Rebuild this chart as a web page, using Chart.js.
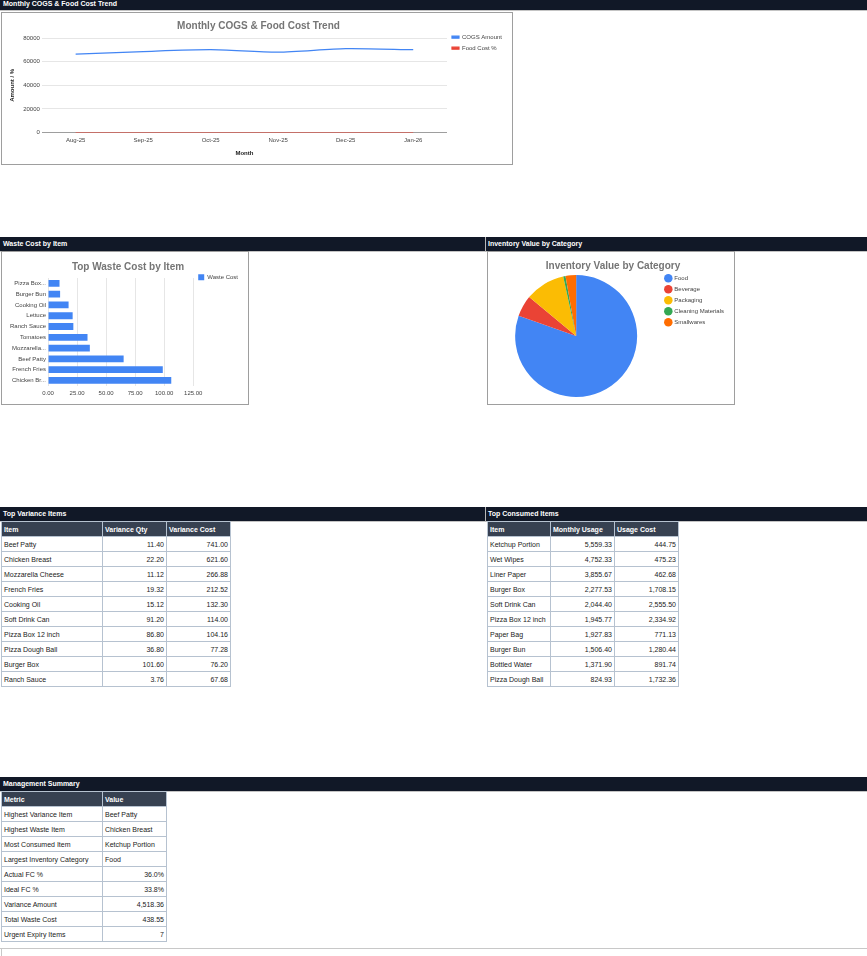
<!DOCTYPE html>
<html>
<head>
<meta charset="utf-8">
<script src="https://cdn.jsdelivr.net/npm/chart.js@4.4.1/dist/chart.umd.min.js"></script>
<style>
  body { margin: 0; background: #fff; font-family: "Liberation Sans", Arial, sans-serif; }
  .page { position: relative; width: 867px; height: 956px; overflow: hidden; }
  .bar { position: absolute; left: 0; width: 867px; height: 14px; background: #111827; border-bottom: 1px solid #c4c4c4;
         color: #fff; font-weight: bold; font-size: 7px; line-height: 14px; }
  .bar span { position: absolute; top: 0; }
  .bar .sep { position: absolute; top: 0; left: 485px; width: 1px; height: 15px; background: #b8b8b8; }
  .box { position: absolute; border: 1px solid #9e9e9e; background: #fff; }
  .box canvas { display: block; }
  table { position: absolute; border-collapse: collapse; font-size: 7px; color: #222; table-layout: fixed; }
  td, th { border: 1px solid #b6c2d0; height: 14px; padding: 0 2px; white-space: nowrap; overflow: hidden; }
  th { background: #374151; color: #fff; font-weight: bold; text-align: left; }
  td.num { text-align: right; }
</style>
</head>
<body>
<div class="page">
  <div class="bar" style="top:-4px;"><span style="left:3px;top:1px;">Monthly COGS &amp; Food Cost Trend</span></div>
  <div class="box" style="left:1px;top:12px;"><canvas id="trendChart" width="510" height="151"></canvas></div>

  <div class="bar" style="top:237px;"><span style="left:3px;">Waste Cost by Item</span><div class="sep"></div><span style="left:488px;">Inventory Value by Category</span></div>
  <div class="box" style="left:1px;top:251px;"><canvas id="wasteChart" width="246" height="152"></canvas></div>
  <div class="box" style="left:487px;top:251px;"><canvas id="invChart" width="246" height="152"></canvas></div>

  <div class="bar" style="top:507px;"><span style="left:3px;">Top Variance Items</span><div class="sep"></div><span style="left:488px;">Top Consumed Items</span></div>
  <table id="varianceTable" style="left:1px;top:521px;"></table>
  <table id="consumedTable" style="left:487px;top:521px;"></table>

  <div class="bar" style="top:777px;"><span style="left:3px;">Management Summary</span></div>
  <table id="summaryTable" style="left:1px;top:791px;"></table>

  <div style="position:absolute;left:0;top:948px;width:867px;height:1px;background:#c8c8c8;"></div>
  <div style="position:absolute;left:1px;top:948px;width:1px;height:8px;background:#c8c8c8;"></div>
</div>

<script>
// ── data ────────────────────────────────────────────────────────────────
const months       = ["Aug-25", "Sep-25", "Oct-25", "Nov-25", "Dec-25", "Jan-26"];
const cogsAmount   = [66300, 68500, 70100, 68000, 71000, 70100];
const foodCostPct  = [34.8, 35.4, 36.2, 35.7, 36.5, 36.0];
const trendTicks   = { min: 0, max: 80000, step: 20000 };

const wasteItems   = ["Pizza Box...", "Burger Bun", "Cooking Oil", "Lettuce", "Ranch Sauce",
                      "Tomatoes", "Mozzarella...", "Beef Patty", "French Fries", "Chicken Br..."];
const wasteCost    = [9.9, 10.4, 17.7, 21.2, 21.8, 34.0, 36.0, 65.1, 98.8, 106.1];
const wasteTicks   = { min: 0, max: 125, step: 25 };

const invCategories = ["Food", "Beverage", "Packaging", "Cleaning Materials", "Smallwares"];
const invValues     = [80.4, 5.6, 10.6, 0.6, 2.8];
const invColors     = ["#4285F4", "#EA4335", "#FBBC04", "#34A853", "#FF6D01"];

const varianceItems = ["Beef Patty", "Chicken Breast", "Mozzarella Cheese", "French Fries", "Cooking Oil",
                       "Soft Drink Can", "Pizza Box 12 inch", "Pizza Dough Ball", "Burger Box", "Ranch Sauce"];
const varianceQty   = ["11.40", "22.20", "11.12", "19.32", "15.12", "91.20", "86.80", "36.80", "101.60", "3.76"];
const varianceCost  = ["741.00", "621.60", "266.88", "212.52", "132.30", "114.00", "104.16", "77.28", "76.20", "67.68"];

const consumedItems = ["Ketchup Portion", "Wet Wipes", "Liner Paper", "Burger Box", "Soft Drink Can",
                       "Pizza Box 12 inch", "Paper Bag", "Burger Bun", "Bottled Water", "Pizza Dough Ball"];
const consumedUsage = ["5,559.33", "4,752.33", "3,855.67", "2,277.53", "2,044.40",
                       "1,945.77", "1,927.83", "1,506.40", "1,371.90", "824.93"];
const consumedCost  = ["444.75", "475.23", "462.68", "1,708.15", "2,555.50",
                       "2,334.92", "771.13", "1,280.44", "891.74", "1,732.36"];

const summaryMetrics = ["Highest Variance Item", "Highest Waste Item", "Most Consumed Item", "Largest Inventory Category",
                        "Actual FC %", "Ideal FC %", "Variance Amount", "Total Waste Cost", "Urgent Expiry Items"];
const summaryValues  = ["Beef Patty", "Chicken Breast", "Ketchup Portion", "Food",
                        "36.0%", "33.8%", "4,518.36", "438.55", "7"];

// ── tables ──────────────────────────────────────────────────────────────
function buildTable(id, headers, widths, cols, numeric) {
    const t = document.getElementById(id);
    let html = "<colgroup>" + widths.map(w => `<col style="width:${w}px">`).join("") + "</colgroup>";
    html += "<tr>" + headers.map(h => `<th>${h}</th>`).join("") + "</tr>";
    for (let i = 0; i < cols[0].length; i++) {
        html += "<tr>" + cols.map((c, j) => {
            const isNum = numeric[j] === true || (numeric[j] === "auto" && /^[\d.,%]+$/.test(c[i]));
            return `<td class="${isNum ? "num" : ""}">${c[i]}</td>`;
        }).join("") + "</tr>";
    }
    t.innerHTML = html;
}
buildTable("varianceTable", ["Item", "Variance Qty", "Variance Cost"], [101, 64, 64],
           [varianceItems, varianceQty, varianceCost], [false, true, true]);
buildTable("consumedTable", ["Item", "Monthly Usage", "Usage Cost"], [63, 64, 64],
           [consumedItems, consumedUsage, consumedCost], [false, true, true]);
buildTable("summaryTable", ["Metric", "Value"], [101, 64],
           [summaryMetrics, summaryValues], [false, "auto"]);

// ── charts ──────────────────────────────────────────────────────────────
Chart.defaults.font.family = "'Liberation Sans', Arial, sans-serif";
Chart.defaults.color = "#444";
Chart.defaults.animation = false;
Chart.defaults.plugins.tooltip.enabled = false;

const titleFont = { size: 10, weight: "bold" };
const small = { size: 6 };
// empty legend title used only as a spacer so legend items line up with the plot top
const legendSpacer = top => ({ display: true, text: "", font: small, padding: { top: top, bottom: 0 } });

new Chart(document.getElementById("trendChart"), {
    type: "line",
    data: {
        labels: months,
        datasets: [
            { label: "COGS Amount", data: cogsAmount, borderColor: "#4285F4", backgroundColor: "#4285F4",
              borderWidth: 1.2, pointRadius: 0, tension: 0.25 },
            { label: "Food Cost %", data: foodCostPct, borderColor: "#EA4335", backgroundColor: "#EA4335",
              borderWidth: 1.2, pointRadius: 0, tension: 0.25 }
        ]
    },
    options: {
        responsive: false,
        devicePixelRatio: 1,
        layout: { padding: { left: 3, right: 0, top: 0, bottom: 3 } },
        plugins: {
            title: { display: true, text: "Monthly COGS & Food Cost Trend", color: "#757575", font: titleFont,
                     padding: { top: 7, bottom: 6 } },
            legend: { position: "right", align: "start", title: legendSpacer(9),
                      labels: { boxWidth: 7, boxHeight: 2, font: small, color: "#444", padding: 5 } }
        },
        scales: {
            x: { offset: true, grid: { display: false, drawTicks: false }, border: { display: false },
                 ticks: { font: small, color: "#444", padding: 4, maxRotation: 0 },
                 title: { display: true, text: "Month", font: { size: 6, weight: "bold" }, color: "#222", padding: { top: 2 } } },
            y: { min: trendTicks.min, max: trendTicks.max,
                 ticks: { stepSize: trendTicks.step, font: small, color: "#444", padding: 2, callback: v => v },
                 grid: { color: ctx => ctx.tick && ctx.tick.value === 0 ? "#9e9e9e" : "#e6e6e6", drawTicks: false },
                 border: { display: false },
                 title: { display: true, text: "Amount / %", font: { size: 6, weight: "bold" }, color: "#222",
                          padding: { top: 4, bottom: 5 } } }
        }
    }
});

new Chart(document.getElementById("wasteChart"), {
    type: "bar",
    data: {
        labels: wasteItems,
        datasets: [{ label: "Waste Cost", data: wasteCost, backgroundColor: "#4285F4",
                     categoryPercentage: 1, barPercentage: 0.63 }]
    },
    options: {
        indexAxis: "y",
        responsive: false,
        devicePixelRatio: 1,
        layout: { padding: { left: 6, right: 0, top: 0, bottom: 3 } },
        plugins: {
            title: { display: true, text: "Top Waste Cost by Item", color: "#757575", font: titleFont,
                     padding: { top: 9, bottom: 5 } },
            legend: { position: "right", align: "start", title: legendSpacer(10),
                      labels: { boxWidth: 6, boxHeight: 6, font: small, color: "#444", padding: 5 } }
        },
        scales: {
            x: { min: wasteTicks.min, max: wasteTicks.max,
                 ticks: { stepSize: wasteTicks.step, font: small, color: "#444", callback: v => v.toFixed(2), maxRotation: 0, padding: 4 },
                 grid: { color: "#e6e6e6", drawTicks: false }, border: { display: false } },
            y: { grid: { display: false, drawTicks: false }, border: { display: false },
                 ticks: { font: small, color: "#444", padding: 2 } }
        }
    }
});

new Chart(document.getElementById("invChart"), {
    type: "pie",
    data: {
        labels: invCategories,
        datasets: [{ data: invValues, backgroundColor: invColors, borderWidth: 0 }]
    },
    options: {
        responsive: false,
        devicePixelRatio: 1,
        layout: { padding: { left: 4, right: 0, top: 0, bottom: 7 } },
        plugins: {
            title: { display: true, text: "Inventory Value by Category", color: "#757575", font: titleFont,
                     padding: { top: 8, bottom: 3 } },
            legend: { position: "right", align: "start", title: legendSpacer(11),
                      labels: { usePointStyle: true, pointStyle: "circle", boxWidth: 6, boxHeight: 6,
                                font: small, color: "#444", padding: 5 } }
        }
    }
});
</script>
</body>
</html>
